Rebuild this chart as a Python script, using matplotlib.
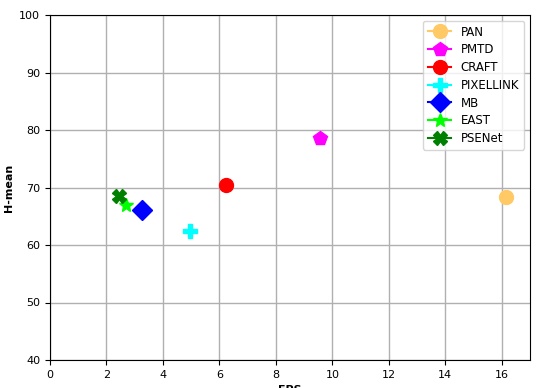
import matplotlib
matplotlib.use("Agg")
import matplotlib.pyplot as plt

methods = ["PAN", "PMTD", "CRAFT", "PIXELLINK", "MB", "EAST", "PSENet"]
fps = [16.15, 9.55, 6.25, 4.95, 3.25, 2.7, 2.45]
hmean = [68.4, 78.6, 70.4, 62.4, 66.1, 66.9, 68.5]
markers = ["o", "p", "o", "P", "D", "*", "X"]
colors = ["#ffc966", "magenta", "red", "cyan", "blue", "lime", "green"]
sizes = [10, 10, 10, 10, 10, 10, 10]

fig = plt.figure(figsize=(5.48, 3.88), dpi=100)
ax = fig.add_axes([50 / 548, 1 - 360 / 388, 480 / 548, 345 / 388])
for name, x, y, m, c, s in zip(methods, fps, hmean, markers, colors, sizes):
    ax.plot([x], [y], marker=m, color=c, markersize=s, label=name)

ax.set_xlim(0, 17)
ax.set_ylim(40, 100)
ax.set_xticks(range(0, 17, 2))
ax.tick_params(labelsize=8)
ax.grid(True, color="#b0b0b0", linewidth=1)
ax.set_axisbelow(True)
ax.set_xlabel("FPS", fontweight="bold", fontsize=8)
ax.set_ylabel("H-mean", fontweight="bold", fontsize=8)
ax.legend(loc="upper right", fontsize=8.5, labelspacing=0.4)

fig.savefig("out.png", dpi=100)
